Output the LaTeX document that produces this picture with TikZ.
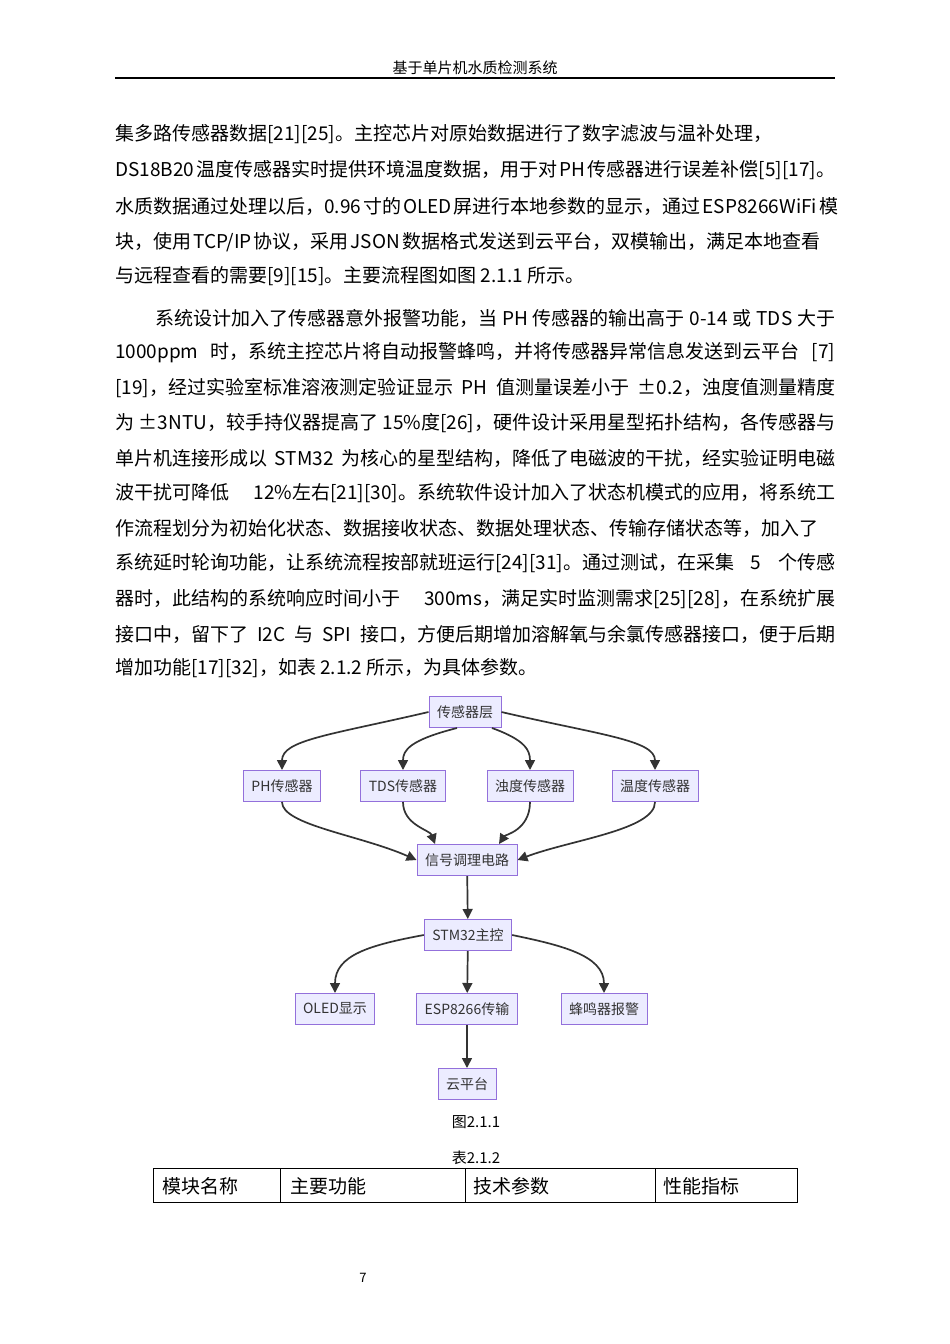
\documentclass[tikz,border=0pt]{standalone}
\usepackage{fontspec}
\setmainfont{Noto Sans CJK SC}
\usetikzlibrary{arrows.meta}
\definecolor{nfill}{HTML}{ECECFF}
\definecolor{nbord}{HTML}{9370DB}
\definecolor{ink}{HTML}{333333}
\newcommand\jline[1]{\hbox to 720pt{\spaceskip=2pt plus 20pt\relax #1}}
\begin{document}
\begin{tikzpicture}[x=1pt,y=-1pt,
  body/.style={anchor=west,inner sep=0pt,font=\fontsize{19}{20}\selectfont},
  fbox/.style={draw=nbord,fill=nfill,line width=1pt,text=ink,font=\fontsize{14}{15}\selectfont,minimum height=31pt,inner xsep=8pt},
  arr/.style={draw=ink,line width=1.7pt,-{Triangle[length=10pt,width=10pt]}}]
\useasboundingbox (0,0) rectangle (950,1344);
\node[inner sep=0pt,font=\fontsize{15}{16}\selectfont] (hdr) at (475,68) {基于单片机水质检测系统};
\draw[line width=1.2pt] (115,78) -- (835,78);
\node[body] (l1) at (115,134) {集多路传感器数据[21][25]。主控芯片对原始数据进行了数字滤波与温补处理，};
\node[body] (l2) at (115,170) {\jline{DS18B20 温度传感器实时提供环境温度数据，用于对 PH 传感器进行误差补偿[5][17]。}};
\node[body] (l3) at (115,206) {\jline{水质数据通过处理以后，0.96 寸的 OLED 屏进行本地参数的显示，通过 ESP8266WiFi 模}};
\node[body] (l4) at (115,242) {\hbox to 705pt{\spaceskip=2pt plus 20pt\relax 块，使用 TCP/IP 协议，采用 JSON 数据格式发送到云平台，双模输出，满足本地查看}};
\node[body] (l5) at (115,276) {与远程查看的需要[9][15]。主要流程图如图 2.1.1 所示。};
\node[body] (m1) at (155,318) {\hbox to 680pt{\spaceskip=2pt plus 20pt\relax 系统设计加入了传感器意外报警功能，当 PH 传感器的输出高于 0-14 或 TDS 大于}};
\node[body] (m2) at (115,353) {\jline{1000ppm 时，系统主控芯片将自动报警蜂鸣，并将传感器异常信息发送到云平台 [7]}};
\node[body] (m3) at (115,388) {\jline{[19]，经过实验室标准溶液测定验证显示 PH 值测量误差小于 ±0.2，浊度值测量精度}};
\node[body] (m4) at (115,423) {\jline{为 ±3NTU，较手持仪器提高了 15\%度[26]，硬件设计采用星型拓扑结构，各传感器与}};
\node[body] (m5) at (115,458) {\jline{单片机连接形成以 STM32 为核心的星型结构，降低了电磁波的干扰，经实验证明电磁}};
\node[body] (m6) at (115,493) {\jline{波干扰可降低 12\%左右[21][30]。系统软件设计加入了状态机模式的应用，将系统工}};
\node[body] (m7) at (115,528) {\jline{作流程划分为初始化状态、数据接收状态、数据处理状态、传输存储状态等，加入了}};
\node[body] (m8) at (115,563) {\jline{系统延时轮询功能，让系统流程按部就班运行[24][31]。通过测试，在采集 5 个传感}};
\node[body] (m9) at (115,599) {\jline{器时，此结构的系统响应时间小于 300ms，满足实时监测需求[25][28]，在系统扩展}};
\node[body] (m10) at (115,634) {\jline{接口中，留下了 I2C 与 SPI 接口，方便后期增加溶解氧与余氯传感器接口，便于后期}};
\node[body] (m11) at (115,668) {增加功能[17][32]，如表 2.1.2 所示，为具体参数。};
% diagram
\node[fbox] (top) at (465,712) {传感器层};
\node[fbox] (ph) at (282,786) {PH传感器};
\node[fbox] (tds) at (403,786) {TDS传感器};
\node[fbox] (zd) at (530,786) {浊度传感器};
\node[fbox] (wd) at (655,786) {温度传感器};
\node[fbox] (sig) at (467,860) {信号调理电路};
\node[fbox] (stm) at (468,935) {STM32主控};
\node[fbox] (oled) at (335,1009) {OLED显示};
\node[fbox] (esp) at (467,1009) {ESP8266传输};
\node[fbox] (bz) at (604,1009) {蜂鸣器报警};
\node[fbox] (cloud) at (467,1084) {云平台};
\draw[arr] (top.west) .. controls (330,735) and (282,740) .. (ph.north);
\draw[arr] ([xshift=-8pt]top.south) .. controls (410,740) and (403,750) .. (tds.north);
\draw[arr] ([xshift=27pt]top.south) .. controls (525,740) and (530,750) .. (zd.north);
\draw[arr] (top.east) .. controls (600,735) and (655,740) .. (wd.north);
\draw[arr] (ph.south) .. controls (282,825) and (360,835) .. (sig.west);
\draw[arr] (tds.south) .. controls (403,825) and (430,830) .. ([xshift=-32pt]sig.north);
\draw[arr] (zd.south) .. controls (530,830) and (505,835) .. ([xshift=32pt]sig.north);
\draw[arr] (wd.south) .. controls (655,830) and (570,840) .. (sig.east);
\draw[arr] (sig) -- (stm);
\draw[arr] (stm.west) .. controls (370,945) and (335,955) .. (oled.north);
\draw[arr] (stm) -- (esp);
\draw[arr] (stm.east) .. controls (560,945) and (604,955) .. (bz.north);
\draw[arr] (esp) -- (cloud);
% captions and table
\node[inner sep=0pt,font=\fontsize{15}{16}\selectfont] (cap1) at (476,1122) {图2.1.1};
\node[inner sep=0pt,font=\fontsize{15}{16}\selectfont] (cap2) at (476,1158) {表2.1.2};
\draw[line width=0.8pt] (153,1168) rectangle (797,1202);
\foreach \x in {280,465,655} \draw[line width=0.8pt] (\x,1168) -- (\x,1202);
\node[body] (t1) at (162,1186) {模块名称};
\node[body] (t2) at (290,1186) {主要功能};
\node[body] (t3) at (473,1186) {技术参数};
\node[body] (t4) at (663,1186) {性能指标};
\node[inner sep=0pt,font=\fontsize{13}{14}\selectfont] (pg) at (363,1278) {7};
\end{tikzpicture}
\end{document}
